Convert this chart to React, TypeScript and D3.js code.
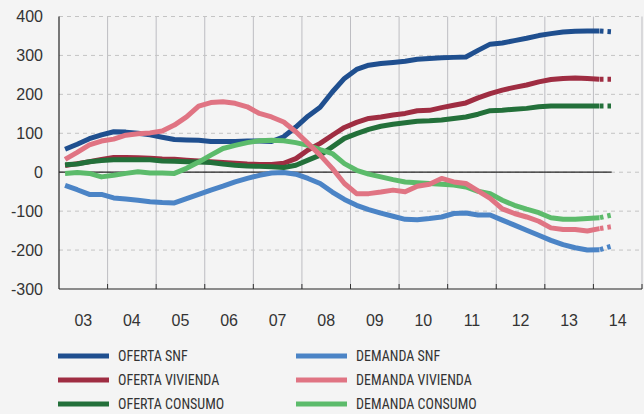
import React from "react";
import * as d3 from "d3";

const W = 644;
const H = 414;

// Quarterly data, 2003Q1 .. 2014Q2 (last segment dashed)
const quarters: number[] = d3.range(46).map((i) => 2003 + (i + 0.5) / 4);

const ofertaSNF = [59, 72, 86, 96, 104, 103, 100, 96, 90, 84, 83, 82, 79, 79, 79, 80, 80, 79, 91, 116, 144, 167, 206, 241, 264, 275, 279, 282, 285, 290, 292, 294, 295, 296, 313, 329, 332, 338, 344, 351, 356, 360, 362, 363, 363, 361];
const demandaSNF = [-34, -45, -57, -57, -66, -69, -72, -76, -78, -79, -68, -57, -46, -36, -25, -16, -8, -2, -1, -5, -16, -29, -51, -70, -85, -96, -105, -113, -121, -122, -119, -115, -106, -105, -110, -110, -123, -136, -149, -162, -175, -186, -194, -200, -199, -190];
const ofertaVivienda = [17, 22, 27, 33, 38, 38, 37, 36, 34, 33, 31, 29, 27, 25, 23, 21, 20, 20, 23, 35, 57, 74, 95, 115, 128, 138, 142, 147, 151, 158, 159, 166, 172, 178, 191, 202, 211, 218, 224, 232, 238, 241, 242, 241, 239, 239];
const demandaVivienda = [33, 51, 70, 80, 85, 95, 99, 101, 106, 121, 142, 170, 179, 181, 177, 168, 151, 142, 129, 104, 74, 44, 10, -29, -55, -55, -51, -46, -50, -36, -31, -16, -25, -29, -48, -67, -94, -106, -115, -126, -143, -147, -147, -151, -145, -140];
const ofertaConsumo = [19, 21, 27, 30, 32, 32, 32, 32, 29, 28, 27, 26, 25, 21, 18, 16, 15, 14, 12, 18, 31, 44, 65, 87, 99, 110, 118, 123, 127, 131, 132, 134, 138, 142, 149, 158, 159, 162, 164, 168, 170, 170, 170, 170, 170, 170];
const demandaConsumo = [-3, -1, -3, -12, -8, -3, 1, -2, -2, -3, 10, 26, 44, 61, 69, 76, 81, 82, 81, 76, 69, 58, 48, 22, 5, -5, -12, -19, -25, -27, -29, -31, -33, -38, -49, -55, -72, -85, -95, -104, -117, -121, -121, -119, -117, -110];

const yearLabels = ["03", "04", "05", "06", "07", "08", "09", "10", "11", "12", "13", "14"];
const yTicks = [400, 300, 200, 100, 0, -100, -200, -300];

const seriesNames = ["OFERTA SNF", "OFERTA VIVIENDA", "OFERTA CONSUMO", "DEMANDA SNF", "DEMANDA VIVIENDA", "DEMANDA CONSUMO"];
const seriesColors = ["#1f4f8f", "#9f2d42", "#23703a", "#4b84c6", "#e07483", "#5cbb6b"];
const seriesData = [ofertaSNF, ofertaVivienda, ofertaConsumo, demandaSNF, demandaVivienda, demandaConsumo];
const drawOrder = [0, 1, 2, 3, 5, 4];

export default function App() {
  const x = d3.scaleLinear().domain([2003, 2015]).range([59, 642]);
  const y = d3.scaleLinear().domain([-300, 400]).range([289, 16.5]);

  const n = quarters.length;
  const pts = (data: number[]) => data.map((v, i) => [quarters[i], v] as [number, number]);
  const line = d3
    .line<[number, number]>()
    .x((d) => x(d[0]))
    .y((d) => y(d[1]));

  const lastX = x(quarters[n - 1]);

  return (
    <svg
      width={W}
      height={H}
      style={{ position: "absolute", left: 0, top: 0, background: "#f4f4f4" }}
      fontFamily="'Liberation Sans', Arial, sans-serif"
    >
      <rect x={0} y={0} width={W} height={H} fill="#f4f4f4" />
      {/* vertical grid */}
      {d3.range(2004, 2016).map((yr) => (
        <line key={"vg" + yr} x1={x(yr)} x2={x(yr)} y1={y(400)} y2={y(-300)} stroke="#bdbdc2" strokeWidth={1} />
      ))}
      {/* horizontal dashed grid */}
      {yTicks
        .filter((t) => t !== -300)
        .map((t) => (
          <line key={"hg" + t} x1={x(2003)} x2={x(2015)} y1={y(t)} y2={y(t)} stroke="#c4c4c4" strokeWidth={1} strokeDasharray="4,4" />
        ))}
      {/* zero line */}
      <line x1={x(2003)} x2={lastX} y1={y(0)} y2={y(0)} stroke="#222" strokeWidth={1.2} />
      {/* axes */}
      <line x1={x(2003)} x2={x(2003)} y1={y(400)} y2={y(-300)} stroke="#222" strokeWidth={1.2} />
      <line x1={x(2003)} x2={x(2015)} y1={y(-300)} y2={y(-300)} stroke="#222" strokeWidth={1.2} />
      {d3.range(2004, 2016).map((yr) => (
        <line key={"tk" + yr} x1={x(yr)} x2={x(yr)} y1={y(-300) - 5} y2={y(-300)} stroke="#333" strokeWidth={1} />
      ))}
      {/* y labels */}
      {yTicks.map((t) => (
        <text key={"yl" + t} x={43} y={y(t)} dy="0.35em" textAnchor="end" fontSize={16} fill="#333">
          {t}
        </text>
      ))}
      {/* x labels */}
      {yearLabels.map((lab, i) => (
        <text key={"xl" + lab} x={x(2003 + i + 0.5)} y={320} dy="0.35em" textAnchor="middle" fontSize={16} fill="#333">
          {lab}
        </text>
      ))}
      {/* series */}
      {drawOrder.map((si) => {
        const p = pts(seriesData[si]);
        return (
          <g key={"s" + si}>
            <path d={line(p.slice(0, n - 1)) || ""} fill="none" stroke={seriesColors[si]} strokeWidth={5} strokeLinejoin="round" />
            <path
              d={line(p.slice(n - 2)) || ""}
              fill="none"
              stroke={seriesColors[si]}
              strokeWidth={5}
              strokeDasharray="3.5,4"
              strokeDashoffset={-0.5}
            />
          </g>
        );
      })}
      {/* legend */}
      {seriesNames.map((name, i) => {
        const col = Math.floor(i / 3);
        const row = i % 3;
        const lx = col === 0 ? 58 : 296;
        const ly = 356 + row * 24;
        return (
          <g key={"lg" + i}>
            <rect x={lx} y={ly - 2.5} width={51} height={5} fill={seriesColors[i]} />
            <text x={lx + 60} y={ly} dy="0.36em" fontSize={14} fill="#333" fontFamily="'Liberation Sans Narrow', 'Roboto Condensed', Arial, sans-serif">
              {name}
            </text>
          </g>
        );
      })}
    </svg>
  );
}
